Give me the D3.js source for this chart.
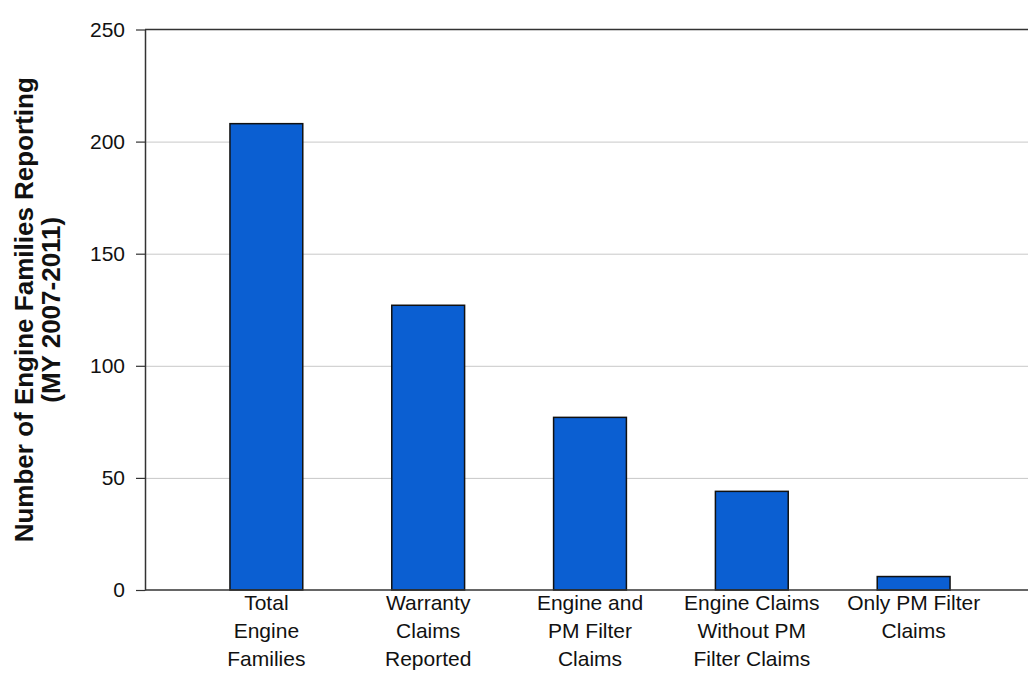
<html>

<head>
  <script src="https://d3js.org/d3.v7.min.js"></script>
  <style>
    body {
      margin: 0;
      background: #fff;
      font-family: "Liberation Sans", Arial, sans-serif;
    }

    .gridlines .domain {
      display: none;
    }

    .gridlines line {
      stroke: #c8c8c8;
    }
  </style>
</head>

<body>
  <svg width="1028" height="677" id="barchart"></svg>
  <script>
    // chart data
    const categories = ["Total Engine Families", "Warranty Claims Reported", "Engine and PM Filter Claims",
      "Engine Claims Without PM Filter Claims", "Only PM Filter Claims"];
    const categoryLines = [
      ["Total", "Engine", "Families"],
      ["Warranty", "Claims", "Reported"],
      ["Engine and", "PM Filter", "Claims"],
      ["Engine Claims", "Without PM", "Filter Claims"],
      ["Only PM Filter", "Claims"]
    ];
    const engineFamilies = [208, 127, 77, 44, 6];
    const yTicks = [0, 50, 100, 150, 200, 250];
    const yTitle = ["Number of Engine Families Reporting", "(MY 2007-2011)"];

    const data = categories.map((c, i) => ({ name: c, lines: categoryLines[i], value: engineFamilies[i] }));

    const svg = d3.select("svg#barchart");
    const width = +svg.attr("width");

    const margins = { top: 29.5, left: 145, bottom: 590 };

    const yScale = d3.scaleLinear().domain([0, 250]).range([margins.bottom, margins.top]);
    const xScale = d3.scaleBand().domain(categories).range([margins.left, 1035])
      .paddingInner(0.55)
      .paddingOuter(0.525);

    // gridlines
    svg.append("g")
      .attr("class", "gridlines")
      .attr("transform", `translate(${margins.left},0)`)
      .call(d3.axisLeft(yScale).tickValues(yTicks.slice(1, -1)).tickSize(-(width - margins.left)).tickFormat(""));

    // bars
    svg.selectAll("rect.bar").data(data)
      .join("rect").attr("class", "bar")
      .attr("x", d => xScale(d.name))
      .attr("y", d => yScale(d.value))
      .attr("width", xScale.bandwidth())
      .attr("height", d => yScale(0) - yScale(d.value))
      .attr("fill", "#0b5fd2")
      .attr("stroke", "#111")
      .attr("stroke-width", 1.5);

    // frame: top and bottom lines run to the right edge
    svg.append("line")
      .attr("x1", margins.left).attr("x2", width)
      .attr("y1", yScale(250)).attr("y2", yScale(250))
      .attr("stroke", "#333").attr("stroke-width", 1.5);
    svg.append("line")
      .attr("x1", margins.left).attr("x2", width)
      .attr("y1", yScale(0)).attr("y2", yScale(0))
      .attr("stroke", "#333").attr("stroke-width", 1.5);

    // left axis
    const leftAxis = svg.append("g")
      .attr("transform", `translate(${margins.left},0)`)
      .call(d3.axisLeft(yScale).tickValues(yTicks).tickSize(9).tickPadding(11).tickSizeOuter(0));
    leftAxis.select(".domain").attr("stroke", "#333").attr("stroke-width", 1.5);
    leftAxis.selectAll(".tick line").attr("stroke", "#333").attr("stroke-width", 1.2);
    leftAxis.selectAll(".tick text")
      .attr("font-family", "'Liberation Sans', Arial, sans-serif")
      .attr("font-size", 21)
      .attr("fill", "#111");

    // category labels
    const labels = svg.selectAll("text.cat").data(data)
      .join("text").attr("class", "cat")
      .attr("text-anchor", "middle")
      .attr("font-size", 21)
      .attr("fill", "#111")
      .attr("transform", d => `translate(${xScale(d.name) + xScale.bandwidth() / 2},610)`);
    labels.selectAll("tspan").data(d => d.lines)
      .join("tspan")
      .attr("x", 0)
      .attr("y", (d, i) => i * 28)
      .text(d => d);

    // y axis title
    const title = svg.append("text")
      .attr("transform", `translate(33,${(yScale(0) + yScale(250)) / 2}) rotate(-90)`)
      .attr("text-anchor", "middle")
      .attr("font-size", 26)
      .attr("font-weight", "bold")
      .attr("fill", "#111");
    title.selectAll("tspan").data(yTitle)
      .join("tspan")
      .attr("x", 0)
      .attr("y", (d, i) => i * 27)
      .text(d => d);
  </script>
</body>

</html>
